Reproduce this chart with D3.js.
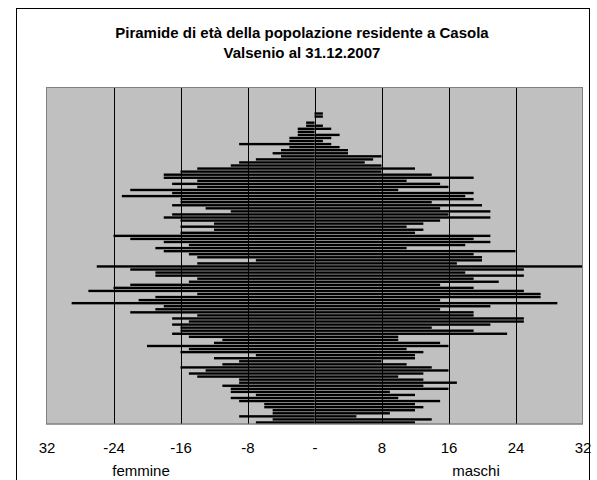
<!DOCTYPE html>
<html>
<head>
<meta charset="utf-8">
<script src="https://cdn.jsdelivr.net/npm/d3@7"></script>
<style>
  html, body { margin: 0; padding: 0; background: #fff; }
  svg { display: block; font-family: "Liberation Sans", Arial, sans-serif; }
</style>
</head>
<body>
<svg id="chart" width="597" height="480"></svg>
<script>
// Età (0 in basso), residenti per singolo anno di età
const ages = d3.range(0, 110);

// Maschi per età, a partire da 0 anni
const maschi = [
  12,14,5,9,12,13,
  12,15,10,12,9,16,13,17,13,10,13,16,14,11,8,12,12,13,11,16,15,10,10,23,19,14,21,25,25,19,19,15,21,
  29,15,27,27,25,19,15,22,19,25,18,25,32,17,20,20,19,24,11,18,21,19,21,12,13,11,13,15,21,16,21,15,20,
  14,19,18,19,10,16,15,11,19,14,8,12,8,6,7,8,4,4,3,2,1,2,3,0,2,1,0,0,1,1
];

// Femmine per età, a partire da 0 anni
const femmine = [
  7,5,9,5,5,6,6,
  9,10,7,10,10,11,9,9,14,15,13,16,11,9,12,7,16,15,20,12,11,15,17,16,16,17,15,17,14,22,19,18,
  29,21,19,14,27,24,22,15,14,19,19,22,26,14,7,14,15,18,19,15,18,22,24,16,12,16,12,16,18,17,10,13,17,
  16,16,23,17,22,14,17,14,18,18,16,14,10,9,7,4,5,4,3,9,3,3,2,2,2,1,1,0,0,0
];

const tickValues = [-32, -24, -16, -8, 0, 8, 16, 24, 32];
const tickLabels = ["32", "-24", "-16", "-8", "-", "8", "16", "24", "32"];
const titleLines = ["Piramide di età della popolazione residente a Casola", "Valsenio al 31.12.2007"];
const axisTitles = ["femmine", "maschi"];

const svg = d3.select("#chart");
const plot = { left: 46.5, right: 582.5, top: 87.5, bottom: 424 };
const axisTitleX = [141, 476];

// cornice esterna del grafico
svg.append("rect")
  .attr("x", 16.5).attr("y", 8.5)
  .attr("width", 573).attr("height", 490)
  .attr("fill", "#fff").attr("stroke", "#000").attr("stroke-width", 1);

// titolo
svg.append("g").selectAll("text").data(titleLines).join("text")
  .attr("x", 302).attr("y", (d, i) => 37.5 + i * 20)
  .attr("text-anchor", "middle")
  .attr("font-size", 15).attr("font-weight", "bold")
  .text(d => d);

const x = d3.scaleLinear().domain([-32, 32]).range([plot.left, plot.right]);
const y = d3.scaleBand().domain(ages).range([plot.bottom, plot.top]).paddingInner(0.22).paddingOuter(0.11);

// area del tracciato
svg.append("rect")
  .attr("x", plot.left).attr("y", plot.top)
  .attr("width", plot.right - plot.left).attr("height", plot.bottom - plot.top)
  .attr("fill", "#c0c0c0").attr("stroke", "#808080").attr("stroke-width", 1);

// griglia verticale
svg.append("g").selectAll("line").data(tickValues.slice(1, -1)).join("line")
  .attr("x1", d => Math.round(x(d)) + 0.5).attr("x2", d => Math.round(x(d)) + 0.5)
  .attr("y1", plot.top).attr("y2", plot.bottom)
  .attr("stroke", "#000").attr("stroke-width", 1);

// barre: femmine a sinistra, maschi a destra
const bars = svg.append("g").attr("fill", "#000");
bars.selectAll("rect.f").data(femmine).join("rect").attr("class", "f")
  .attr("x", d => x(-d)).attr("width", d => x(0) - x(-d))
  .attr("y", (d, i) => y(ages[i])).attr("height", y.bandwidth());
bars.selectAll("rect.m").data(maschi).join("rect").attr("class", "m")
  .attr("x", x(0)).attr("width", d => x(d) - x(0))
  .attr("y", (d, i) => y(ages[i])).attr("height", y.bandwidth());

// bordo sopra le barre
svg.append("rect")
  .attr("x", plot.left).attr("y", plot.top)
  .attr("width", plot.right - plot.left).attr("height", plot.bottom - plot.top)
  .attr("fill", "none").attr("stroke", "#808080").attr("stroke-width", 1);

// asse orizzontale
const axis = d3.axisBottom(x).tickValues(tickValues)
  .tickFormat((d, i) => tickLabels[i]).tickSize(0).tickPadding(18);
const gx = svg.append("g").attr("transform", `translate(0,${plot.bottom})`).call(axis);
gx.select(".domain").remove();
gx.selectAll("text")
  .attr("y", 0).attr("dy", 0)
  .attr("transform", "translate(0,29)")
  .attr("font-size", 15).attr("font-family", "Liberation Sans, Arial, sans-serif").attr("fill", "#000");

svg.append("g").selectAll("text").data(axisTitles).join("text")
  .attr("x", (d, i) => axisTitleX[i]).attr("y", 476)
  .attr("text-anchor", "middle").attr("font-size", 15)
  .text(d => d);
</script>
</body>
</html>
